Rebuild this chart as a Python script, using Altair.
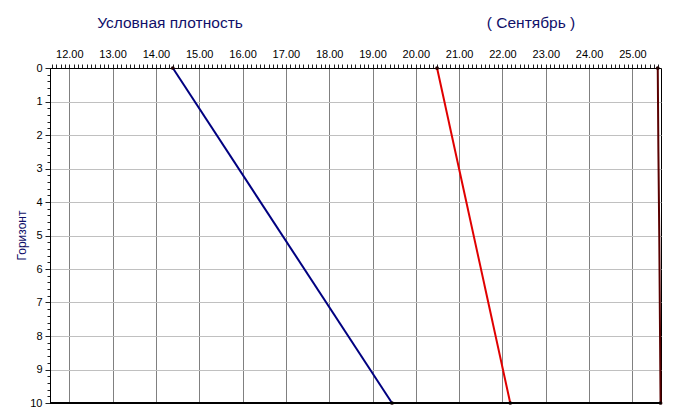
import altair as alt
import numpy as np
import pandas as pd

# Data
depth_blue = [0, 10]
dens_blue = [14.39, 19.45]
depth_red = [0, 10]
dens_red = [20.49, 22.18]
depth_dark = [0, 2.5, 5, 7.5, 10]
dens_dark = [25.585, 25.60, 25.62, 25.635, 25.65]

series_names = ["blue", "red", "dark"]
series_colors = ["#000080", "#e00000", "#5a0000"]

rows = []
for name, ds, vs in zip(series_names, [depth_blue, depth_red, depth_dark], [dens_blue, dens_red, dens_dark]):
    for i, (d, v) in enumerate(zip(ds, vs)):
        rows.append({"series": name, "depth": d, "dens": v, "order": i,
                     "end": i == 0 or i == len(ds) - 1})
df = pd.DataFrame(rows)

x_ticks = [float(round(v, 1)) for v in np.arange(11.6, 25.65, 0.1)]
y_ticks = [float(round(v, 1)) for v in np.arange(0, 10.01, 0.2)]
is_int = "abs(datum.value - round(datum.value)) < 0.001"

FONT = "Liberation Sans"
NAVY = "#10106a"

xscale = alt.Scale(domain=[11.555, 25.66], nice=False, zero=False)
yscale = alt.Scale(domain=[0, 10], reverse=True, nice=False, zero=False)

xaxis = alt.Axis(orient="top", values=x_ticks, tickCount=1000, title=None,
                 labelExpr=f"{is_int} ? format(datum.value, '.2f') : ''",
                 labelOverlap=False, labelFont=FONT, labelFontSize=11, labelColor="black",
                 labelPadding=5, tickSize=4, tickColor="#222", domainColor="black",
                 gridColor="#808080", gridWidth=1,
                 gridOpacity={"condition": {"test": is_int, "value": 1}, "value": 0})
yaxis = alt.Axis(orient="left", values=y_ticks, tickCount=1000, title="Горизонт",
                 titleFont=FONT, titleFontSize=12, titleFontWeight="normal", titleColor=NAVY,
                 titleAngle=270, titleBaseline="middle", titleAlign="center",
                 titleX=-29, titleY=167,
                 labelExpr=f"{is_int} ? format(datum.value, 'd') : ''",
                 labelOverlap=False, labelFont=FONT, labelFontSize=11, labelColor="black",
                 labelPadding=3,
                 tickSize={"condition": {"test": is_int, "value": 5}, "value": 3},
                 tickColor="#222", domainColor="black",
                 gridColor="#c0c0c0", gridWidth=1,
                 gridOpacity={"condition": {"test": is_int, "value": 1}, "value": 0})

base = alt.Chart(df)

lines = base.mark_line(strokeWidth=2).encode(
    x=alt.X("dens:Q", scale=xscale, axis=xaxis),
    y=alt.Y("depth:Q", scale=yscale, axis=yaxis),
    color=alt.Color("series:N", scale=alt.Scale(domain=series_names, range=series_colors), legend=None),
    order="order:Q",
    detail="series:N",
)

pts = base.transform_filter("datum.end").mark_point(filled=True, size=14, opacity=1).encode(
    x=alt.X("dens:Q", scale=xscale),
    y=alt.Y("depth:Q", scale=yscale),
    color=alt.value("#200000"),
)

titles = pd.DataFrame({"t": ["Условная плотность", "( Сентябрь )"], "px": [120, 481]})
title_layer = alt.Chart(titles).mark_text(
    font=FONT, fontSize=15.5, color=NAVY, baseline="middle", align="center"
).encode(x=alt.X("px:Q", scale=None), y=alt.value(-45), text="t:N")

bottom = alt.Chart(pd.DataFrame({"a": [0]})).mark_rule(color="black", strokeWidth=2).encode(
    x=alt.value(0), x2=alt.value(611), y=alt.value(335))

chart = alt.layer(lines, pts, bottom, title_layer).properties(
    width=611, height=335,
    autosize=alt.AutoSizeParams(type="none"),
    padding={"left": 42, "top": 60, "right": 6, "bottom": 8},
).configure_view(stroke="black", strokeWidth=1)

chart.save("out.html", embed_options={"renderer": "svg", "actions": False})
